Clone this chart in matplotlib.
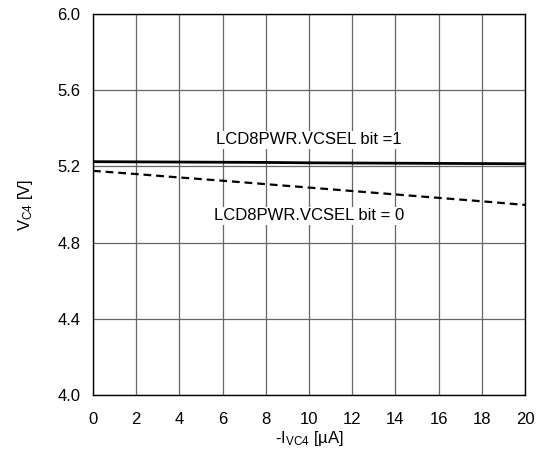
import matplotlib
matplotlib.use("Agg")
import matplotlib.pyplot as plt

plt.rcParams["font.family"] = ["Liberation Sans", "DejaVu Sans"]

current_ua = [0, 2, 4, 6, 8, 10, 12, 14, 16, 18, 20]
vc4_bit1 = [5.225, 5.224, 5.223, 5.222, 5.221, 5.219, 5.218, 5.217, 5.216, 5.215, 5.214]
vc4_bit0 = [5.177, 5.160, 5.142, 5.125, 5.107, 5.089, 5.071, 5.053, 5.035, 5.017, 4.998]

x_ticks = [0, 2, 4, 6, 8, 10, 12, 14, 16, 18, 20]
y_ticks = [4.0, 4.4, 4.8, 5.2, 5.6, 6.0]

fig = plt.figure(figsize=(5.45, 4.53), dpi=100)
ax = fig.add_axes([0.1706, 0.128, 0.7927, 0.841])

ax.plot(current_ua, vc4_bit1, color="black", linewidth=2.0, zorder=3)
ax.plot(current_ua, vc4_bit0, color="black", linewidth=1.6, linestyle=(0, (3.5, 2.2)), zorder=3)

ax.set_xlim(0, 20)
ax.set_ylim(4.0, 6.0)
ax.set_xticks(x_ticks)
ax.set_yticks(y_ticks)
ax.set_yticklabels([f"{v:.1f}" for v in y_ticks])
ax.tick_params(length=0, labelsize=12)
ax.tick_params(axis="x", pad=12)
ax.tick_params(axis="y", pad=9)
ax.grid(True, color="#666666", linewidth=0.9)
ax.set_axisbelow(True)
for s in ax.spines.values():
    s.set_linewidth(1.0)

ax.text(10, 5.34, "LCD8PWR.VCSEL bit =1", ha="center", va="center", fontsize=12,
        bbox=dict(facecolor="white", edgecolor="none", pad=1), zorder=4)
ax.text(10, 4.94, "LCD8PWR.VCSEL bit = 0", ha="center", va="center", fontsize=12,
        bbox=dict(facecolor="white", edgecolor="none", pad=1), zorder=4)

ax.set_xlabel(r"-I$\mathregular{_{VC4}}$ [µA]", fontsize=12, labelpad=2)
ax.set_ylabel(r"V$\mathregular{_{C4}}$ [V]", fontsize=12, labelpad=16)

fig.savefig("out.png", dpi=100)
